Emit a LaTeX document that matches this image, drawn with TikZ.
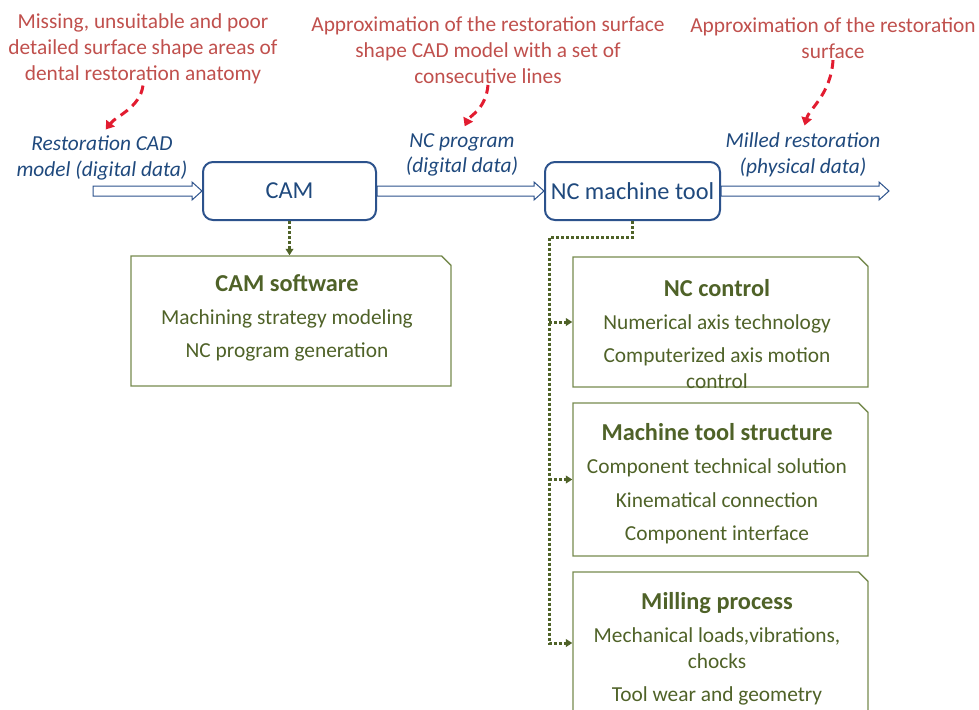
\documentclass[tikz,border=0pt]{standalone}
\usepackage{fontspec}
\setmainfont{Carlito}
\usetikzlibrary{arrows.meta, shapes.misc, calc}

\definecolor{notered}{RGB}{192,80,77}
\definecolor{hintred}{RGB}{226,28,48}
\definecolor{datablue}{RGB}{31,73,125}
\definecolor{unitblue}{RGB}{44,82,140}
\definecolor{olive}{RGB}{79,98,40}
\definecolor{olivebox}{RGB}{118,138,78}

% hollow block arrow between two points
\newcommand{\hollowflow}[2]{%
  \draw[flowline] ($(#1)+(0,-5)$) -- ($(#2)+(-10,-5)$) -- ($(#2)+(-10,-9)$) -- (#2)
    -- ($(#2)+(-10,9)$) -- ($(#2)+(-10,5)$) -- ($(#1)+(0,5)$) -- cycle;}
\newcommand{\parttitle}[1]{{\fontsize{17.3}{18.3}\selectfont\bfseries #1}}

\begin{document}
\begin{tikzpicture}[
  x=0.25mm, y=-0.25mm,
  font=\fontsize{15.2}{18.3}\selectfont,
  note/.style={text=notered, align=center, inner sep=1pt},
  data/.style={text=datablue, align=center, font=\fontsize{15.2}{18.3}\selectfont\itshape, inner sep=1pt},
  unit/.style={rectangle, rounded corners=2.5mm, draw=unitblue, line width=0.5mm, minimum height=14.5mm, text=datablue, font=\fontsize{17.3}{19}\selectfont},
  part/.style={chamfered rectangle, chamfered rectangle corners=north east, chamfered rectangle xsep=3.75mm, chamfered rectangle ysep=3.75mm, draw=olivebox, line width=0.35mm, minimum width=73.75mm},
  parttext/.style={text=olive, align=center},
  flowline/.style={draw=unitblue, fill=white, line width=0.25mm, line join=miter},
  hint/.style={hintred, line width=0.75mm, dash pattern=on 2.2mm off 1.5mm, shorten >=1.5mm, -{Triangle[length=2mm, width=2.6mm]}},
  link/.style={olive, line width=0.75mm, dash pattern=on 0.75mm off 0.5mm, -{Triangle[length=1.6mm, width=1.9mm]}}
]
  \useasboundingbox (0,0) rectangle (979,709);
  \clip (0,0) rectangle (979,709);

  % red notes and data labels
  \node[note] (gaps) at (143,49) {Missing, unsuitable and poor\\ detailed surface shape areas of\\ dental restoration anatomy};
  \node[note] (lines) at (488,50) {Approximation of the restoration surface\\ shape CAD model with a set of\\ consecutive lines};
  \node[note] (surf) at (833,38) {Approximation of the restoration\\ surface};
  \node[data] (cadin) at (102,158) {Restoration CAD\\ model (digital data)};
  \node[data] (ncprog) at (462,155) {NC program\\ (digital data)};
  \node[data] (milled) at (803,155) {Milled restoration\\ (physical data)};

  % main chain
  \node[unit, minimum width=43.25mm] (cam) at (289.5,191) {CAM};
  \node[unit, minimum width=43.75mm] (nc) at (632.5,191) {NC machine tool};
  \coordinate (cadsrc) at (93,191);
  \coordinate (millout) at (889,191);
  \hollowflow{cadsrc}{cam.west}
  \hollowflow{cam.east}{nc.west}
  \hollowflow{nc.east}{millout}

  \draw[hint] (gaps.south) .. controls +(-3,22) and +(14,-18) .. (cadin.north);
  \draw[hint] (lines.south) .. controls +(-2,24) and +(8,-16) .. (ncprog.north);
  \draw[hint] (surf.south) .. controls +(-2,34) and +(6,-22) .. (milled.north);

  % CAM software
  \node[part, minimum width=80mm, minimum height=32.5mm] (camsw) at (291,321) {};
  \node[parttext] (camswtxt) at (287,318) {\parttitle{CAM software}\\[5pt] Machining strategy modeling\\[5.5pt] NC program generation};
  \draw[link] (cam.south) -- (cam.south |- camsw.north);

  % machine tool parts
  \node[part, minimum height=32.5mm] (ncctrl) at (720.5,322) {};
  \node[parttext] (ncctrltxt) at (717,334) {\parttitle{NC control}\\[5pt] Numerical axis technology\\[5.5pt] Computerized axis motion\\ control};
  \node[part, minimum height=38.25mm] (mts) at (720.5,479.5) {};
  \node[parttext] (mtstxt) at (717,484) {\parttitle{Machine tool structure}\\[5pt] Component technical solution\\[5.5pt] Kinematical connection\\[5.5pt] Component interface};
  \node[part, minimum height=35.5mm] (mill) at (720.5,643) {};
  \node[parttext] (milltxt) at (717,649) {\parttitle{Milling process}\\[5pt] Mechanical loads,vibrations,\\ chocks\\[5.5pt] Tool wear and geometry};

  \coordinate (split) at (549,237);
  \draw[link] (nc.south) |- (split) -- (split |- mill.west) -- (mill.west);
  \draw[link] (split |- ncctrl.west) -- (ncctrl.west);
  \draw[link] (split |- mts.west) -- (mts.west);
\end{tikzpicture}
\end{document}
